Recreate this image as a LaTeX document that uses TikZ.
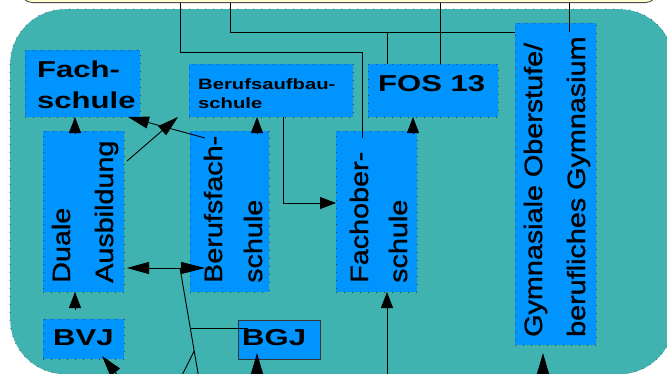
\documentclass[tikz,border=0pt]{standalone}
\usepackage{fontspec}
\usetikzlibrary{arrows.meta,calc}
\newfontfamily\boxfont{Liberation Sans}[FakeStretch=1.35]
\newfontfamily\sidefont{Liberation Sans}[FakeStretch=1.15,FakeBold=1.2]
\definecolor{tealbg}{RGB}{64,178,176}
\definecolor{boxblue}{RGB}{0,148,255}
\definecolor{paleyellow}{RGB}{255,255,204}
\begin{document}
\begin{tikzpicture}[x=1pt,y=-1pt,
  conn/.style={draw=black, line width=0.9pt},
  arr/.style={conn, -{Triangle[length=16pt,width=12pt]}},
  arrlong/.style={conn, -{Triangle[length=21pt,width=12pt]}},
  arrboth/.style={conn, {Triangle[length=22pt,width=12pt]}-{Triangle[length=24pt,width=12pt]}},
  griddots/.style={draw=black!75, line width=0.8pt, dash pattern=on 0.8pt off 7.2pt},
  schbox/.style={rectangle, fill=boxblue, inner sep=0pt, outer sep=0pt,
    postaction={griddots}},
  htext/.style={inner sep=0pt, anchor=base west,
    font=\boxfont\bfseries\fontsize{23}{23}\selectfont},
  stext/.style={inner sep=0pt, anchor=base west,
    font=\boxfont\bfseries\fontsize{15}{15}\selectfont},
  vtext/.style={inner sep=0pt, anchor=base west, rotate=90,
    font=\sidefont\fontsize{25}{25}\selectfont},
]
\useasboundingbox (0,0) rectangle (667,373);
\clip (0,0) rectangle (667,373);
\fill[white] (0,0) rectangle (667,373);

% upper level (only its lower edge is in view)
\node[draw=black!70, line width=0.9pt, fill=paleyellow, rounded corners=12pt,
  minimum width=637pt, minimum height=60pt, inner sep=0pt, anchor=south west]
  (oben) at (20,3) {};

% vocational school area
\node[fill=tealbg, rounded corners=55pt, minimum width=664pt, minimum height=365pt,
  inner sep=0pt, anchor=north west] (bereich) at (10,9) {};
\draw[griddots, rounded corners=55pt] (10,9) rectangle (674,374);

% school boxes
\node[schbox, minimum width=115pt, minimum height=67pt]  (fachschule) at (82.5,83.5) {};
\node[schbox, minimum width=164pt, minimum height=53pt]  (aufbau)     at (271,90.5) {};
\node[schbox, minimum width=130pt, minimum height=53pt]  (fos)        at (433,90.5) {};
\node[schbox, minimum width=81pt,  minimum height=322pt] (gym)        at (555.5,184) {};
\node[schbox, minimum width=81pt,  minimum height=161pt] (duale)      at (83.5,211.5) {};
\node[schbox, minimum width=79pt,  minimum height=161pt] (bfs)        at (229.5,211.5) {};
\node[schbox, minimum width=81pt,  minimum height=161pt] (fachober)   at (376.5,211.5) {};
\node[schbox, minimum width=81pt,  minimum height=40pt]  (bvj)        at (83.5,339) {};
\node[schbox, draw=black!80, line width=1pt, minimum width=82pt, minimum height=39pt]
  (bgj) at (279,339.5) {};

% labels
\node[htext] (l-fach1) at (37,77)  {Fach-};
\node[htext] (l-fach2) at (37,108) {schule};
\node[stext] (l-bau1)  at (198,89) {Berufsaufbau-};
\node[stext] (l-bau2)  at (198,108) {schule};
\node[htext] (l-fos)   at (378,91) {FOS 13};
\node[htext] (l-bvj)   at (53,345) {BVJ};
\node[htext] (l-bgj)   at (242,345) {BGJ};
\node[vtext] (l-dua1)  at (70,283)  {Duale};
\node[vtext] (l-dua2)  at (113,283) {Ausbildung};
\node[vtext] (l-bfs1)  at (222,283) {Berufsfach-};
\node[vtext] (l-bfs2)  at (262,283) {schule};
\node[vtext] (l-fob1)  at (368,283) {Fachober-};
\node[vtext] (l-fob2)  at (407,283) {schule};
\node[vtext] (l-gym1)  at (542,337) {Gymnasiale Oberstufe/};
\node[vtext] (l-gym2)  at (585,337) {berufliches Gymnasium};

% bend and branch points
\coordinate (o1) at (180,3);
\coordinate (o2) at (230,3);
\coordinate (o3) at (440,3);
\coordinate (o4) at (569,3);
\coordinate (k1) at (362,52);
\coordinate (k2) at (387,32);
\coordinate (c75) at (75,0);
\coordinate (c257) at (257,0);
\coordinate (c413) at (413,0);
\coordinate (c283) at (283,203);
\coordinate (j)   at (180,268);
\coordinate (jl)  at (127,268);
\coordinate (jr)  at (205,268);
\coordinate (u1)  at (200.9,390);
\coordinate (m1)  at (190.3,328);
\coordinate (m2)  at (194.2,351);
\coordinate (u2)  at (174.7,390);
\coordinate (g1)  at (248,328);
\coordinate (u3)  at (129.6,390);
\coordinate (bvjin) at (102,356);
\coordinate (u4)  at (257,390);
\coordinate (bgjin) at (257,353);
\coordinate (u5)  at (387,390);
\coordinate (u6)  at (543,390);
\coordinate (gymin) at (543,353);
\coordinate (s1) at (205,138);
\coordinate (e1) at (128,117);
\coordinate (s2) at (127,161);
\coordinate (e2) at (178,117);

% lines from the upper level
\draw[conn] (o1) |- (k1) -- ([yshift=-7pt]k1 |- fachober.north);
\draw[conn] (o2) |- (gym.west |- k2);
\draw[conn] (k2) -- (k2 |- fos.north);
\draw[conn] (o3) -- (o3 |- fos.north);
\draw[conn] (o4) -- (o4 |- k2);

% transitions
\draw[arr] ([yshift=-2pt]c75 |- duale.north) -- (c75 |- fachschule.south);
\draw[arr] ([yshift=-2pt]c257 |- bfs.north) -- (c257 |- aufbau.south);
\draw[arr] ([yshift=-2pt]c413 |- fachober.north) -- (c413 |- fos.south);
\draw[arr] ([yshift=9pt]c75 |- bvj.north) -- (c75 |- duale.south);
\draw[arr] (c283 |- aufbau.south) |- (fachober.west |- c283);
\draw[arrlong] (s1) -- (e1);
\draw[arrlong] (s2) -- (e2);
\draw[arrboth] (jl) -- (jr);
\draw[conn] (u1) -- (j);
\draw[conn] (m1) -- (g1);
\draw[conn] (m2) -- (u2);
\draw[arrlong] (u3) -- (bvjin);
\draw[arrlong] (u4) -- (bgjin);
\draw[arr] (u5) -- (u5 |- fachober.south);
\draw[arrlong] (u6) -- (gymin);
\end{tikzpicture}
\end{document}
